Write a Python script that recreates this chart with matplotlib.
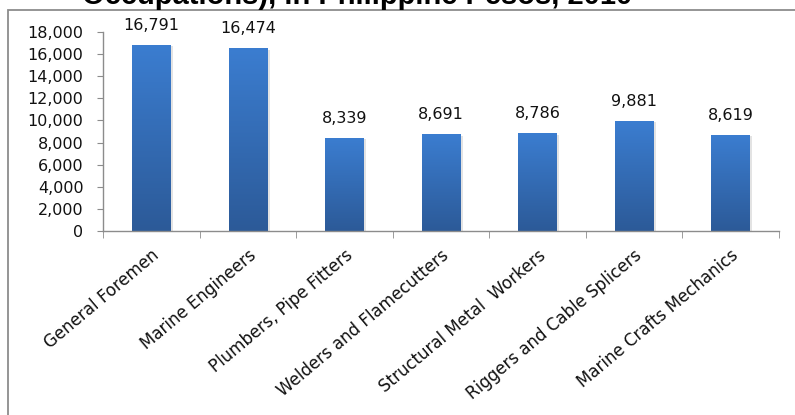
import numpy as np
import matplotlib
matplotlib.use("Agg")
import matplotlib.pyplot as plt
from matplotlib.colors import LinearSegmentedColormap
from matplotlib.patches import Rectangle
from matplotlib.ticker import FuncFormatter, FixedLocator

# Data
occupations = [
    "General Foremen",
    "Marine Engineers",
    "Plumbers, Pipe Fitters",
    "Welders and Flamecutters",
    "Structural Metal  Workers",
    "Riggers and Cable Splicers",
    "Marine Crafts Mechanics",
]
wages = [16791, 16474, 8339, 8691, 8786, 9881, 8619]
title_text = "Occupations), in Philippine Pesos, 2010"

W, H = 795, 415
DPI = 100
fig = plt.figure(figsize=(W / DPI, H / DPI), dpi=DPI)

# chart border (runs past the right and bottom edges of the crop)
fig.patches.append(Rectangle((8 / W, -0.2), 1.2, 1.2 - 10 / H,
                             transform=fig.transFigure, fill=False,
                             edgecolor="#8c8c8c", linewidth=1.3))

# title, mostly cut off at the top
fig.text(82 / W, 1 - 4.5 / H, title_text, ha="left", va="baseline",
         fontsize=21, fontweight="bold", family="Liberation Sans", color="black")

ax = fig.add_axes([103 / W, 1 - 231 / H, (779 - 103) / W, (231 - 32) / H])

x = np.arange(len(wages))
bar_w = 0.4
cmap = LinearSegmentedColormap.from_list("bar", ["#2c5a98", "#3b7dd0"])
grad = np.linspace(0, 1, 256).reshape(-1, 1)

for xi, v in zip(x, wages):
    # soft shadow
    ax.add_patch(Rectangle((xi - bar_w / 2 + 0.02, 0), bar_w + 0.005, v - 60,
                           facecolor="#b0b0b0", alpha=0.35, edgecolor="none", zorder=1))
    ax.imshow(grad, cmap=cmap, origin="lower", aspect="auto",
              extent=[xi - bar_w / 2, xi + bar_w / 2, 0, v], zorder=2)
    ax.annotate(f"{v:,}", (xi, v), xytext=(0, 9), textcoords="offset points",
                ha="center", va="bottom", fontsize=11.5, family="DejaVu Sans",
                color="#111111")

ax.set_xlim(-0.5, len(wages) - 0.5)
ax.set_ylim(0, 18000)
ax.set_yticks(np.arange(0, 18001, 2000))
ax.yaxis.set_major_formatter(FuncFormatter(lambda v, p: f"{int(v):,}"))

ax.set_xticks(x)
ax.set_xticklabels(occupations, rotation=40, ha="right", va="top",
                   rotation_mode="anchor", fontsize=12, family="DejaVu Sans")
ax.xaxis.set_minor_locator(FixedLocator(np.arange(-0.5, len(wages), 1.0)))

for s in ["top", "right"]:
    ax.spines[s].set_visible(False)
for s in ["left", "bottom"]:
    ax.spines[s].set_color("#8c8c8c")
    ax.spines[s].set_linewidth(1.0)

ax.tick_params(axis="y", direction="out", length=4, color="#8c8c8c",
               labelsize=11.5, pad=10, labelcolor="#111111")
ax.tick_params(axis="x", which="major", length=0, pad=11, labelcolor="#111111")
ax.tick_params(axis="x", which="minor", direction="out", length=5, color="#8c8c8c")
for lab in ax.get_yticklabels():
    lab.set_family("DejaVu Sans")

fig.savefig("out.png", dpi=DPI)
